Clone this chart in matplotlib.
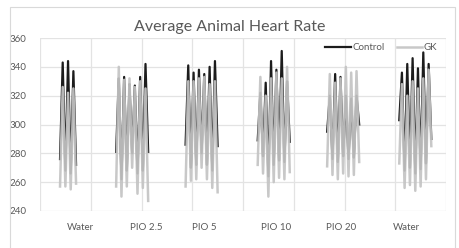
import numpy as np
import matplotlib
matplotlib.use("Agg")
import matplotlib.pyplot as plt
from matplotlib.patches import Rectangle

# ---- data ----
n_categories = 152
group_start = [7, 28, 54, 81, 107, 134]

control_groups = [
    [276, 343, 268, 344, 266, 337, 272],
    [281, 332, 262, 333, 268, 328, 280, 327, 266, 333, 268, 342, 281],
    [286, 341, 270, 336, 272, 338, 280, 335, 272, 340, 268, 344, 285],
    [289, 322, 278, 329, 264, 344, 272, 338, 275, 351, 274, 330, 288],
    [295, 320, 276, 335, 274, 333, 278, 320, 276, 318, 277, 320, 300],
    [303, 336, 268, 342, 270, 346, 266, 339, 269, 350, 273, 342, 290],
]
gk_groups = [
    [257, 326, 257, 322, 255, 325, 259],
    [257, 340, 250, 331, 257, 332, 270, 326, 252, 330, 256, 325, 247],
    [257, 330, 261, 330, 262, 332, 270, 333, 262, 328, 256, 330, 253],
    [272, 333, 266, 320, 250, 332, 260, 336, 263, 332, 262, 340, 267],
    [271, 335, 265, 329, 262, 332, 266, 340, 264, 336, 265, 337, 274],
    [273, 328, 256, 320, 258, 330, 254, 325, 257, 332, 262, 338, 285],
]
x_labels = ["Water", "PIO 2.5", "PIO 5", "PIO 10", "PIO 20", "Water"]
x_label_pos = [15, 39.7, 61.4, 88.4, 112.7, 137]
y_ticks = [240, 260, 280, 300, 320, 340, 360]

def build(groups):
    arr = np.full(n_categories, np.nan)
    for s, g in zip(group_start, groups):
        arr[s:s + len(g)] = g
    return arr

control = build(control_groups)
gk = build(gk_groups)

plt.rcParams['font.family'] = ['Lato', 'DejaVu Sans']
fig = plt.figure(figsize=(4.59, 2.48), dpi=100)
fig.patch.set_facecolor('white')
fig.add_artist(Rectangle((10 / 459, -0.01), 445 / 459, 1 - 7 / 248 + 0.01,
                         transform=fig.transFigure, fill=False,
                         edgecolor='#d9d9d9', linewidth=0.8))

ax = fig.add_axes([40 / 459, 1 - 211 / 248, 406 / 459, 173 / 248])
x = np.arange(n_categories) + 0.5
ax.plot(x, control, color='#1c1c1c', lw=1.6, label='Control')
ax.plot(x, gk, color='#c4c4c4', lw=1.8, label='GK', alpha=0.92)

ax.set_xlim(0, n_categories)
ax.set_ylim(240, 360)
ax.set_yticks(y_ticks)
ax.set_xticks(np.arange(0, n_categories + 1, 19), minor=False)
ax.set_xticklabels([])
ax.grid(True, color='#e3e3e3', lw=0.9)
ax.set_axisbelow(True)
for s in ax.spines.values():
    s.set_visible(False)
ax.tick_params(axis='both', length=0, colors='#595959', labelsize=7)
ax.tick_params(axis='y', pad=10)
for p, lab in zip(x_label_pos, x_labels):
    ax.text(p, -0.095, lab, transform=ax.get_xaxis_transform(),
            ha='center', va='center', fontsize=7, color='#595959')

fig.text(0.5, 1 - 27 / 248, "Average Animal Heart Rate", ha='center', va='center',
         fontsize=11.5, color='#595959')
leg = ax.legend(loc='upper right', bbox_to_anchor=(1.0, 1.02), ncol=2, frameon=False,
                fontsize=7, handlelength=2.6, handletextpad=0.2, columnspacing=1.2,
                labelcolor='#595959')

fig.savefig('out.png', dpi=100, facecolor='white')
